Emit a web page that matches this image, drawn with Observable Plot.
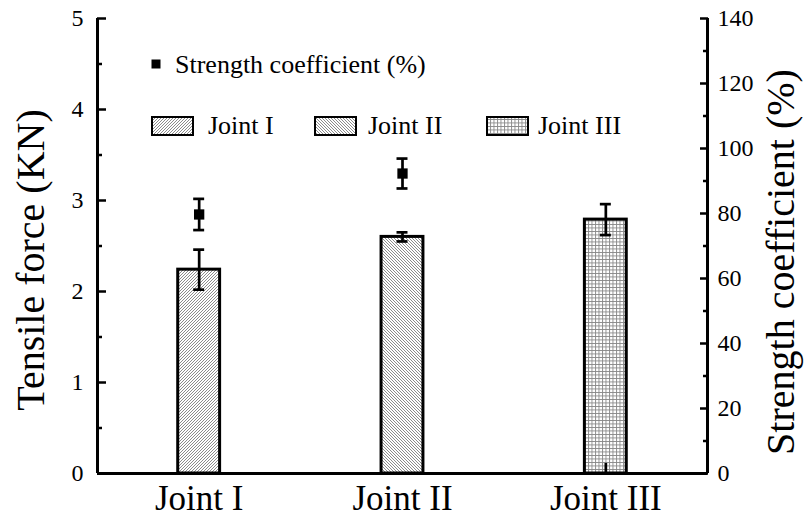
<!DOCTYPE html>
<html><head><meta charset="utf-8">
<script src="https://cdn.jsdelivr.net/npm/d3@7"></script>
<script src="https://cdn.jsdelivr.net/npm/@observablehq/plot@0.6"></script>
<style>body{margin:0;background:#fff} svg{display:block} svg text{font-family:"Liberation Serif","Times New Roman",serif}</style>
</head><body><div id="chart"></div>
<script>
const joints = ["Joint I", "Joint II", "Joint III"];
const tensile = [2.24, 2.60, 2.79];
const tensileErr = [0.22, 0.05, 0.17];
const strength = [79.7, 92.3, 0];
const strengthErr = [4.8, 4.6, 3.1];
const patternIds = ["hatchA", "hatchB", "grid"];
const leftTicks = [0, 1, 2, 3, 4, 5];
const leftMinor = [0.5, 1.5, 2.5, 3.5, 4.5];
const rightTicks = [0, 20, 40, 60, 80, 100, 120, 140];
const rightMinor = [10, 30, 50, 70, 90, 110, 130];

const K = 5 / 140; // right axis (%) -> left axis (KN)
const data = joints.map((j, i) => ({
  j, pos: i + 1,
  t: tensile[i], te: tensileErr[i],
  s: strength[i] * K, se: strengthErr[i] * K,
  fill: `url(#${patternIds[i]})`
}));
const hw = 0.103, cap = 0.027;
const font = '"Liberation Serif", "Times New Roman", serif';

const chart = Plot.plot({
  width: 807, height: 524,
  marginLeft: 97, marginRight: 100, marginTop: 18, marginBottom: 51,
  style: {fontFamily: font, background: "white", color: "black", overflow: "visible"},
  x: {type: "linear", domain: [0.5, 3.5], axis: null},
  y: {domain: [0, 5], axis: null},
  color: {type: "identity"},
  marks: [
    Plot.rectY(data, {x1: d => d.pos - hw, x2: d => d.pos + hw, y1: 0, y2: "t", fill: "fill", stroke: "black", strokeWidth: 3}),
    Plot.ruleX(data, {x: "pos", y1: d => d.t - d.te, y2: d => d.t + d.te, strokeWidth: 2.7}),
    Plot.ruleY(data, {y: d => d.t + d.te, x1: d => d.pos - cap, x2: d => d.pos + cap, strokeWidth: 2.7}),
    Plot.ruleY(data, {y: d => d.t - d.te, x1: d => d.pos - cap, x2: d => d.pos + cap, strokeWidth: 2.7}),
    Plot.ruleX(data, {x: "pos", y1: d => Math.max(0, d.s - d.se), y2: d => d.s + d.se, strokeWidth: 2.7}),
    Plot.ruleY(data.filter(d => d.s > 0), {y: d => d.s + d.se, x1: d => d.pos - cap, x2: d => d.pos + cap, strokeWidth: 2.7}),
    Plot.ruleY(data.filter(d => d.s > 0), {y: d => d.s - d.se, x1: d => d.pos - cap, x2: d => d.pos + cap, strokeWidth: 2.7}),
    Plot.dot(data.filter(d => d.s > 0), {x: "pos", y: "s", symbol: "square", r: 5.8, fill: "black", stroke: null}),
    Plot.ruleY([0], {strokeWidth: 3}),
    Plot.ruleX([0.5, 3.5], {strokeWidth: 3}),
    Plot.axisY(leftTicks, {anchor: "left", tickSize: -9, tickPadding: 23, fontSize: 24, strokeWidth: 2.5, tickFormat: d3.format("d"), label: null}),
    Plot.axisY(leftMinor, {anchor: "left", tickSize: -5, tickFormat: () => "", strokeWidth: 2.5, label: null}),
    Plot.axisY(rightTicks.map(v => v * K), {anchor: "right", tickSize: -8, tickPadding: 18, fontSize: 24, strokeWidth: 2.5, tickFormat: d => Math.round(d / K), label: null}),
    Plot.axisY(rightMinor.map(v => v * K), {anchor: "right", tickSize: -5, tickFormat: () => "", strokeWidth: 2.5, label: null}),
    Plot.axisX([1, 2, 3], {anchor: "bottom", tickSize: 0, tickPadding: 12, fontSize: 35, tickFormat: d => joints[d - 1], label: null})
  ]
});

const svg = d3.select(chart);
const defs = svg.insert("defs", ":first-child");
function hatch(id, d, stroke, w) {
  const p = defs.append("pattern").attr("id", id).attr("width", 3).attr("height", 3).attr("patternUnits", "userSpaceOnUse");
  p.append("rect").attr("width", 3).attr("height", 3).attr("fill", "white");
  p.append("path").attr("d", d).attr("stroke", stroke).attr("stroke-width", w).attr("fill", "none");
}
hatch("hatchA", "M-1,1 l2,-2 M0,3 l3,-3 M2,4 l2,-2", "#666", 0.75);
hatch("hatchB", "M-1,2 l2,2 M0,0 l3,3 M2,-1 l2,2", "#666", 0.75);
{
  const p = defs.append("pattern").attr("id", "grid").attr("width", 3.5).attr("height", 3.5).attr("patternUnits", "userSpaceOnUse");
  p.append("rect").attr("width", 3.5).attr("height", 3.5).attr("fill", "white");
  p.append("path").attr("d", "M0,0.5 H3.5 M0.5,0 V3.5").attr("stroke", "#888").attr("stroke-width", 0.9).attr("fill", "none");
}

// axis titles
svg.append("text").attr("transform", "translate(44,260) rotate(-90)").attr("text-anchor", "middle")
  .attr("font-size", 40).text("Tensile force (KN)");
svg.append("text").attr("transform", "translate(794,262) rotate(-90)").attr("text-anchor", "middle")
  .attr("font-size", 40).text("Strength coefficient (%)");

// legend
const lg = svg.append("g").attr("font-size", 26).attr("text-anchor", "start");
lg.append("rect").attr("x", 151.5).attr("y", 59.5).attr("width", 9).attr("height", 9).attr("fill", "black");
lg.append("text").attr("x", 175).attr("y", 73).text("Strength coefficient (%)");
const swX = [152, 315, 487], txX = [208, 368, 538];
joints.forEach((j, i) => {
  lg.append("rect").attr("x", swX[i]).attr("y", 117).attr("width", 41).attr("height", 18)
    .attr("fill", `url(#${patternIds[i]})`).attr("stroke", "black").attr("stroke-width", 2);
  lg.append("text").attr("x", txX[i]).attr("y", 134).text(j);
});

document.getElementById("chart").appendChild(chart);
</script>
</body></html>
